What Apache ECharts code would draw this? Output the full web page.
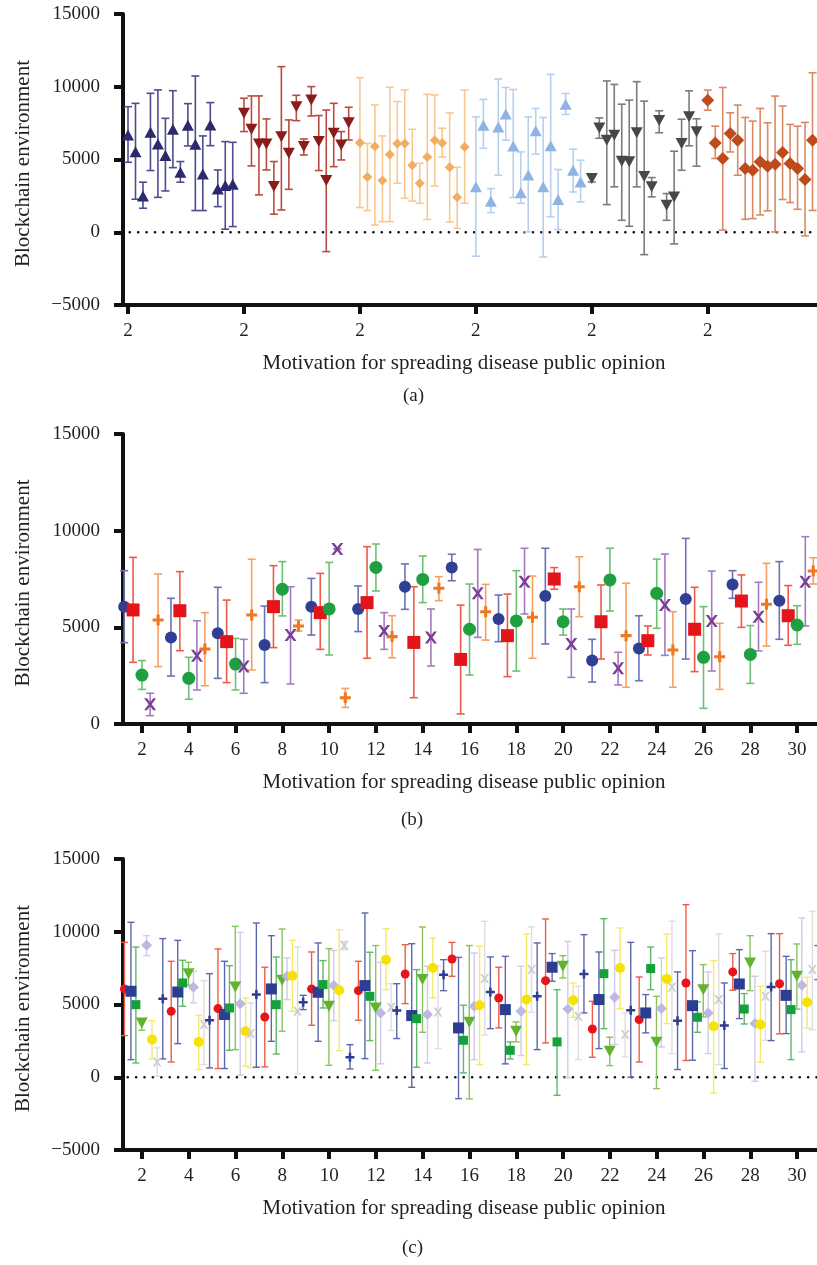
<!DOCTYPE html>
<html>
<head>
<meta charset="utf-8">
<script src="https://cdn.jsdelivr.net/npm/echarts@6/dist/echarts.min.js"></script>
<style>
html,body{margin:0;padding:0;background:#fff;}
#chart{width:817px;height:1265px;}
</style>
</head>
<body>
<div id="chart"></div>
<script>
// ---------------- Panel (a) ----------------
const aTickLabels = ['2','2','2','2','2','2'];
const aNavyMean = [6690,5540,2500,6870,6070,5270,7080,4120,7350,6050,4010,7370,2980,3210,3300];
const aNavyHi   = [8630,8860,3440,9550,9780,7830,9730,4860,8840,10740,6620,8910,4280,6230,6180];
const aNavyLo   = [4810,2270,1650,4240,2400,2840,4440,3440,5930,1490,1490,5950,1760,210,390];
const aRedMean = [8180,7080,6070,6070,3140,6570,5430,8630,5890,9090,6230,3550,6800,6000,7530];
const aRedHi   = [9210,9370,9370,7790,4860,11380,7720,9410,6410,10010,8020,8400,8860,6920,8590];
const aRedLo   = [6920,4560,2570,4280,1240,1530,2950,7670,5310,7990,4240,-1330,4510,4970,6340];
const aPeachMean = [6150,3800,5900,3550,5350,6100,6100,4600,3370,5170,6330,6130,4470,2400,5860];
const aPeachHi   = [10620,6100,8750,6620,9960,8980,9780,7080,4740,9480,9430,7150,8200,4460,9770];
const aPeachLo   = [1700,1490,500,730,730,3370,2340,2150,1990,880,3170,5170,700,270,1990];
const aSkyMean = [3120,7360,2130,7240,8120,5920,2720,3940,6970,3120,5940,2250,8800,4260,3460];
const aSkyHi   = [7930,9130,3000,10530,9950,9810,5520,7930,8510,7890,10850,4310,9540,5710,4950];
const aSkyLo   = [-1650,5770,1350,3920,6330,2390,1990,20,5370,-1700,1070,180,8100,2770,2080];
const aGrayMean = [3690,7170,6330,6670,4880,4840,6840,3830,3120,7680,1860,2430,6100,7930,6900];
const aGrayHi   = [3950,7860,10400,10160,8800,9080,10350,9010,3760,8350,2660,5570,7770,9720,7800];
const aGrayLo   = [3450,6460,1900,3120,820,410,3120,-1540,2430,6840,820,-800,4260,5940,4540];
const aRustMean = [9080,6140,5070,6790,6330,4380,4260,4840,4540,4680,5480,4720,4380,3620,6330];
const aRustHi   = [9770,7290,9950,8210,8740,7890,7640,8510,7520,9360,8670,7410,7290,7550,10960];
const aRustLo   = [8390,5070,150,5520,3920,890,940,1190,1470,20,2250,2040,1580,-250,1500];

// ---------------- Panel (b) ----------------
const bTickLabels = ['2','4','6','8','10','12','14','16','18','20','22','24','26','28','30'];
const bBlueMean = [6070,4480,4690,4090,6070,5950,7100,8100,5430,6620,3280,3910,6470,7220,6380];
const bBlueHi   = [7930,6500,7070,6100,7530,7140,8280,8780,6670,9090,4380,5600,9600,7930,8400];
const bBlueLo   = [4210,2480,2360,2140,4600,4780,5930,7410,4260,4140,2170,2240,3360,6500,4380];
const bRedMean = [5900,5860,4260,6070,5760,6280,4220,3340,4570,7500,5290,4310,4900,6360,5600];
const bRedHi   = [8620,7880,6410,8190,7790,9170,7100,6150,6720,8090,7190,5070,7070,7710,7160];
const bRedLo   = [3190,3790,2140,3950,3860,3400,1360,520,2450,6970,3360,3570,2710,5000,4070];
const bGreenMean = [2530,2360,3100,6970,5950,8100,7480,4900,5330,5290,7450,6760,3450,3600,5120];
const bGreenHi   = [3280,3450,4430,8400,8360,9310,8690,7240,7930,5950,9090,8530,6070,5090,6120];
const bGreenLo   = [1790,1280,1760,5590,3570,6880,6280,2530,2740,4600,5840,4950,810,2100,4120];
const bPurpleMean = [1020,3530,2970,4600,9050,4810,4480,6760,7360,4140,2880,6150,5330,5550,7360];
const bPurpleHi   = [1590,5340,4380,7100,9050,5760,5950,9030,9090,5950,3710,8790,7910,7330,9690];
const bPurpleLo   = [430,1760,1590,2070,9050,3860,3000,4480,5690,2410,2020,3550,2740,3780,5070];
const bOrangeMean = [5380,3880,5640,5070,1360,4520,7020,5810,5520,7100,4570,3830,3480,6190,7910];
const bOrangeHi   = [7760,5760,8520,5380,1840,5600,7620,7220,7650,8650,7280,5810,5210,8310,8600];
const bOrangeLo   = [2970,1980,2790,4810,860,3430,6380,4340,3400,5550,1900,1900,1790,4030,7240];

// ---------------- Panel (c) ----------------
const cTickLabels = bTickLabels;
const cRedMean = [6070,4530,4720,4140,6070,5950,7100,8130,5450,6640,3320,3960,6480,7240,6430];
const cRedHi   = [9270,7970,8820,7560,8610,7970,9110,9270,7560,10880,5220,6890,11860,8500,9870];
const cRedLo   = [2860,1050,600,710,3570,3920,5060,6940,3390,2360,1370,1050,1150,5980,2980];
const cNavySqMean = [5910,5860,4310,6070,5840,6300,4240,3390,4650,7560,5340,4420,4920,6410,5630];
const cNavySqHi   = [10650,9410,7970,9730,9230,11290,9180,8240,8310,8500,8610,5680,8700,8770,8310];
const cNavySqLo   = [1210,2310,600,2470,2470,1280,-690,-1470,920,6600,1970,3050,1170,4030,3000];
const cGreenSqMean = [4990,6480,4760,4990,6370,5560,4030,2540,1850,2430,7120,7470,4120,4690,4650];
const cGreenSqHi   = [8950,8040,7670,8270,8020,8590,7400,4950,2430,6020,10900,8950,5180,5750,8080];
const cGreenSqLo   = [980,4880,1850,1600,4760,2520,690,300,1260,-1240,3340,6020,3090,3660,1210];
const cGreenTriMean = [3730,7120,6210,6660,4880,4760,6710,3780,3160,7630,1790,2400,6020,7850,6940];
const cGreenTriHi   = [3960,7900,10370,10190,8840,9050,10330,9050,3800,8360,2750,5560,7740,9730,9160];
const cGreenTriLo   = [3230,6320,1900,3160,820,480,3090,-1490,2430,6820,800,-780,4140,5950,4690];
const cLavMean = [9070,6180,5060,6940,6300,4420,4310,4880,4530,4690,5500,4720,4420,3690,6320];
const cLavHi   = [9730,7280,9960,8200,8720,7900,7630,8540,7630,9340,8720,8200,7240,6940,10950];
const cLavLo   = [8360,5110,140,5340,3890,920,980,1210,1490,-50,2250,2080,1630,-270,1740];
const cYellowMean = [2590,2430,3160,6980,5980,8080,7510,4950,5340,5290,7510,6760,3500,3620,5150];
const cYellowHi   = [3890,4260,5450,9410,10140,10210,9570,9000,9850,6480,10260,9850,8020,6250,6870];
const cYellowLo   = [1260,530,760,4530,1830,6020,5450,870,870,4120,4720,3690,-1080,1030,3390];
const cGrayXMean = [1050,3620,3000,4530,9050,4810,4490,6780,7400,4190,2930,6180,5340,5560,7400];
const cGrayXHi   = [2020,6640,5110,8950,9340,6430,7630,10720,10330,6250,4420,10720,9850,8660,11400];
const cGrayXLo   = [70,870,640,230,8770,3210,1970,2890,4470,1210,1400,1630,870,2540,3270];
const cNavyPlusMean = [5400,3920,5680,5150,1370,4580,7050,5860,5560,7100,4600,3890,3550,6210,7920];
const cNavyPlusHi   = [9530,7120,10600,5630,2240,6430,8080,8270,9230,9800,9270,7240,6480,9870,9050];
const cNavyPlusLo   = [1260,640,690,4650,570,2660,5950,3340,1900,4420,0,530,600,2520,6710];

// ---------------- helpers ----------------
const FONT = 'Liberation Serif';
const XPATH = 'path://M0,0 L2.4,0 L5,3.4 L7.6,0 L10,0 L6.3,5 L10,10 L7.6,10 L5,6.6 L2.4,10 L0,10 L3.7,5 Z';
const PLUSPATH = 'path://M3.6,0 H6.4 V3.6 H10 V6.4 H6.4 V10 H3.6 V6.4 H0 V3.6 H3.6 Z';

function errSeries(gi, xs, lo, hi, color, capW, lw) {
  const data = xs.map((x, i) => [x, lo[i], hi[i]]);
  return {
    type: 'custom', xAxisIndex: gi, yAxisIndex: gi, silent: true, z: 2,
    encode: { x: 0, y: [1, 2] },
    data: data,
    renderItem: function (params, api) {
      const x = api.value(0), l = api.value(1), h = api.value(2);
      const pL = api.coord([x, l]), pH = api.coord([x, h]);
      const c = capW / 2;
      const st = { stroke: color, lineWidth: lw };
      return { type: 'group', children: [
        { type: 'line', shape: { x1: pH[0], y1: pH[1], x2: pL[0], y2: pL[1] }, style: st },
        { type: 'line', shape: { x1: pH[0] - c, y1: pH[1], x2: pH[0] + c, y2: pH[1] }, style: st },
        { type: 'line', shape: { x1: pL[0] - c, y1: pL[1], x2: pL[0] + c, y2: pL[1] }, style: st }
      ]};
    }
  };
}
function markSeries(gi, xs, mean, symbol, size, color, rotate) {
  return {
    type: 'scatter', xAxisIndex: gi, yAxisIndex: gi, silent: true, z: 5,
    symbol: symbol, symbolSize: size, symbolRotate: rotate || 0,
    itemStyle: { color: color, opacity: 1 },
    data: xs.map((x, i) => [x, mean[i]])
  };
}
function zeroLine(gi, xmin, xmax) {
  return {
    type: 'line', xAxisIndex: gi, yAxisIndex: gi, silent: true, z: 1, symbol: 'none',
    data: [[xmin, 0], [xmax, 0]],
    lineStyle: { color: '#111', width: 2.6, type: [0.1, 8.3], cap: 'round' }
  };
}

// x positions
const aGroupX = (g) => aNavyMean.map((_, j) => g * 15.5 + j);
const aTicks = aTickLabels.map((_, g) => g * 15.5);
const bTicks = bTickLabels.map(t => Number(t));
const bOff = [-0.76, -0.38, 0, 0.35, 0.69];
const cOff = [-0.75, -0.47, -0.26, -0.01, 0.2, 0.43, 0.65, 0.89];
const bX = (s) => bTicks.map(t => t + bOff[s]);
const cX = (s) => bTicks.map(t => t + cOff[s]);

const A_MIN = -0.67, A_MAX = 92.1, B_MIN = 1.19, B_MAX = 30.85;

const grids = [
  { left: 123, top: 14, width: 694, height: 291 },
  { left: 123, top: 434, width: 694, height: 290 },
  { left: 123, top: 859, width: 694, height: 291 }
];

const axisLineStyle = { show: true, onZero: false, lineStyle: { color: '#111', width: 4 } };
const tickStyle = { show: true, length: 9, lineStyle: { color: '#111', width: 4 } };
const labelStyle = { fontFamily: FONT, fontSize: 19, color: '#231f20' };
const xNameStyle = { fontFamily: FONT, fontSize: 21, color: '#231f20', padding: [0, 12, 0, 0] };
const yNameStyle = { fontFamily: FONT, fontSize: 21, color: '#231f20', padding: [0, 8, 0, 0] };

function xAxis(gi, min, max, ticks, labels) {
  return {
    gridIndex: gi, type: 'value', min: min, max: max,
    axisLine: axisLineStyle,
    axisTick: { ...tickStyle, customValues: ticks },
    axisLabel: { ...labelStyle, margin: 17, customValues: ticks,
      formatter: (v) => { const i = ticks.findIndex(t => Math.abs(t - v) < 1e-6); return i >= 0 ? labels[i] : ''; } },
    splitLine: { show: false },
    name: 'Motivation for spreading disease public opinion',
    nameLocation: 'middle', nameGap: 48, nameTextStyle: xNameStyle
  };
}
function yAxis(gi, min) {
  return {
    gridIndex: gi, type: 'value', min: min, max: 15000, interval: 5000,
    axisLine: axisLineStyle, axisTick: tickStyle,
    axisLabel: { ...labelStyle, margin: 23, formatter: (v) => String(v).replace('-', '\u2212') },
    splitLine: { show: false },
    name: 'Blockchain environment', nameLocation: 'middle', nameGap: 89, nameTextStyle: yNameStyle
  };
}

const series = [];
// Panel (a)
const aDefs = [
  [aNavyMean, aNavyLo, aNavyHi, 'triangle', [12, 11], '#2a2a6c', '#4e4c8f', 0],
  [aRedMean, aRedLo, aRedHi, 'triangle', [12, 11], '#8b1c1c', '#b84c40', 180],
  [aPeachMean, aPeachLo, aPeachHi, 'diamond', [10, 10], '#f2ad64', '#f8c893', 0],
  [aSkyMean, aSkyLo, aSkyHi, 'triangle', [12, 11], '#8db4e2', '#b7d0ee', 0],
  [aGrayMean, aGrayLo, aGrayHi, 'triangle', [12, 11], '#474747', '#7c7c7c', 180],
  [aRustMean, aRustLo, aRustHi, 'diamond', [13, 13], '#bf4a1c', '#d98a64', 0]
];
aDefs.forEach((d, g) => series.push(errSeries(0, aGroupX(g), d[1], d[2], d[6], 8, 1.6)));
series.push(zeroLine(0, A_MIN + 0.9, A_MAX));
aDefs.forEach((d, g) => series.push(markSeries(0, aGroupX(g), d[0], d[3], d[4], d[5], d[7])));

// Panel (b)
const bDefs = [
  [bBlueMean, bBlueLo, bBlueHi, 'circle', 12, '#2f3f94', '#6a72b8'],
  [bRedMean, bRedLo, bRedHi, 'rect', 13, '#e3151b', '#ef5a48'],
  [bGreenMean, bGreenLo, bGreenHi, 'circle', 13, '#1fa040', '#6cc074'],
  [bPurpleMean, bPurpleLo, bPurpleHi, XPATH, 12, '#7a3e96', '#a57bbf'],
  [bOrangeMean, bOrangeLo, bOrangeHi, PLUSPATH, 11, '#f07820', '#f5a062']
];
bDefs.forEach((d, s) => series.push(errSeries(1, bX(s), d[1], d[2], d[6], 8, 1.6)));
bDefs.forEach((d, s) => series.push(markSeries(1, bX(s), d[0], d[3], d[4], d[5], 0)));

// Panel (c)
const cDefs = [
  [cRedMean, cRedLo, cRedHi, 'circle', 9, '#e8141c', '#ee5d48', 0],
  [cNavySqMean, cNavySqLo, cNavySqHi, 'rect', 11, '#2c3d92', '#5c66ad', 0],
  [cGreenSqMean, cGreenSqLo, cGreenSqHi, 'rect', 9, '#15a03c', '#5db867', 0],
  [cGreenTriMean, cGreenTriLo, cGreenTriHi, 'triangle', [12, 11], '#62b22f', '#86c45c', 180],
  [cLavMean, cLavLo, cLavHi, 'diamond', [11, 11], '#bdb8e0', '#cfcbea', 0],
  [cYellowMean, cYellowLo, cYellowHi, 'circle', 10, '#f7e300', '#f6e966', 0],
  [cGrayXMean, cGrayXLo, cGrayXHi, XPATH, 9, '#cdcdcd', '#dedede', 0],
  [cNavyPlusMean, cNavyPlusLo, cNavyPlusHi, PLUSPATH, 9, '#2c3d92', '#5c66ad', 0]
];
cDefs.forEach((d, s) => series.push(errSeries(2, cX(s), d[1], d[2], d[6], 7, 1.4)));
series.push(zeroLine(2, B_MIN + 0.2, B_MAX));
cDefs.forEach((d, s) => series.push(markSeries(2, cX(s), d[0], d[3], d[4], d[5], d[7])));

const chart = echarts.init(document.getElementById('chart'), null, { renderer: 'canvas' });
chart.setOption({
  animation: false,
  backgroundColor: '#ffffff',
  grid: grids,
  xAxis: [
    xAxis(0, A_MIN, A_MAX, aTicks, aTickLabels),
    xAxis(1, B_MIN, B_MAX, bTicks, bTickLabels),
    xAxis(2, B_MIN, B_MAX, bTicks, cTickLabels)
  ],
  yAxis: [yAxis(0, -5000), yAxis(1, 0), yAxis(2, -5000)],
  graphic: [
    { type: 'text', left: 403, top: 387, style: { text: '(a)', fontFamily: FONT, fontSize: 19, fill: '#231f20' } },
    { type: 'text', left: 401, top: 811, style: { text: '(b)', fontFamily: FONT, fontSize: 19, fill: '#231f20' } },
    { type: 'text', left: 402, top: 1239, style: { text: '(c)', fontFamily: FONT, fontSize: 19, fill: '#231f20' } }
  ],
  series: series
});
</script>
</body>
</html>
